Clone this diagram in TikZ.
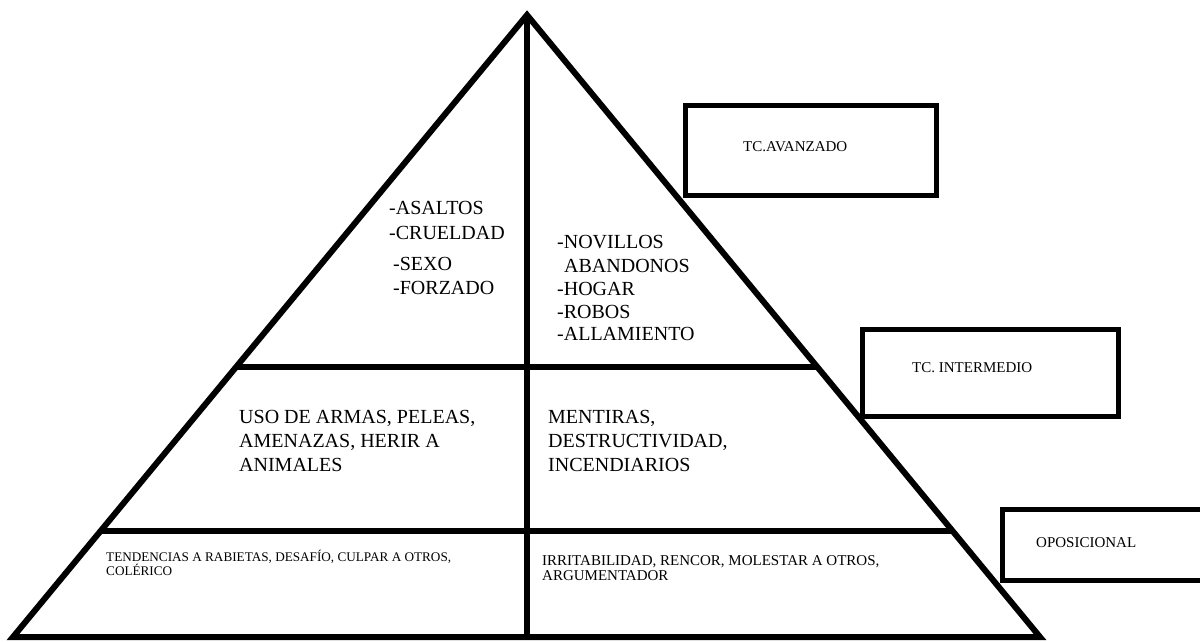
\documentclass[tikz,border=0pt]{standalone}
\usepackage{fontspec}
\setmainfont{Liberation Serif}
\begin{document}
\begin{tikzpicture}[x=1pt,y=-1pt,
  edge/.style={line width=6pt,line join=miter,line cap=butt},
  tier/.style={line width=6pt,line cap=butt},
  lvlbox/.style={draw,line width=5pt,inner sep=0pt,fill=none},
  big/.style={anchor=base west,inner sep=0pt,font=\fontsize{20}{24}\selectfont},
  smallL/.style={anchor=base west,inner sep=0pt,font=\fontsize{13.2}{14}\selectfont},
  smallR/.style={anchor=base west,inner sep=0pt,font=\fontsize{15}{16}\selectfont},
  lab/.style={anchor=base west,inner sep=0pt,font=\fontsize{15}{18}\selectfont}]
\clip (0,0) rectangle (1200,642);
% pyramid
\coordinate (A) at (527,15);
\coordinate (BL) at (13,637);
\coordinate (BR) at (1040,637);
\coordinate (M) at (527,637);
\coordinate (L1) at (236.1,367);
\coordinate (R1) at (817.7,367);
\coordinate (L2) at (100.6,531);
\coordinate (R2) at (952.4,531);
\draw[edge] (A) -- (BL) -- (BR) -- cycle;
\draw[tier] (A) -- (M);
\draw[tier] (L1) -- (R1);
\draw[tier] (L2) -- (R2);
% level boxes
\node[lvlbox,minimum width=251pt,minimum height=90pt] (avz) at (810.5,150) {};
\node[lvlbox,minimum width=256pt,minimum height=87pt] (int) at (990,372.5) {};
\node[lvlbox,minimum width=208pt,minimum height=71pt] (opo) at (1106,544.5) {};
\node[lab] (avzt) at (743,151) {TC.AVANZADO};
\node[lab] (intt) at (912,372) {TC. INTERMEDIO};
\node[lab] (opot) at (1036,547) {OPOSICIONAL};
% top tier
\node[big] (t1) at (389,214) {-ASALTOS};
\node[big] (t2) at (389,239) {-CRUELDAD};
\node[big] (t3) at (393,270) {-SEXO};
\node[big] (t4) at (393,294) {-FORZADO};
\node[big] (u1) at (557,248) {-NOVILLOS};
\node[big] (u2) at (564,272) {ABANDONOS};
\node[big] (u3) at (557,295) {-HOGAR};
\node[big] (u4) at (557,318) {-ROBOS};
\node[big] (u5) at (557,340) {-ALLAMIENTO};
% middle tier
\node[big] (m1) at (239,423) {USO DE ARMAS, PELEAS,};
\node[big] (m2) at (239,447) {AMENAZAS, HERIR A};
\node[big] (m3) at (239,471) {ANIMALES};
\node[big] (n1) at (548,423) {MENTIRAS,};
\node[big] (n2) at (548,447) {DESTRUCTIVIDAD,};
\node[big] (n3) at (548,471) {INCENDIARIOS};
% bottom tier
\node[smallL] (b1) at (106,561) {TENDENCIAS A RABIETAS, DESAFÍO, CULPAR A OTROS,};
\node[smallL] (b2) at (106,575) {COLÉRICO};
\node[smallR] (c1) at (542,565) {IRRITABILIDAD, RENCOR, MOLESTAR A OTROS,};
\node[smallR] (c2) at (542,580) {ARGUMENTADOR};
\end{tikzpicture}
\end{document}
